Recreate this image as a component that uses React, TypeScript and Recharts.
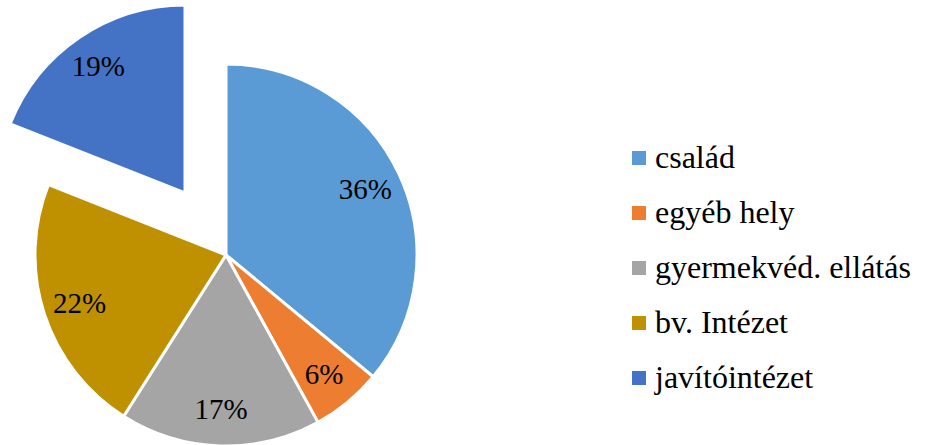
import React from "react";
import { PieChart, Pie, Cell } from "recharts";

// categories and shares (%), clockwise from 12 o'clock
const categories = ["család", "egyéb hely", "gyermekvéd. ellátás", "bv. Intézet", "javítóintézet"];
const shares = [36, 6, 17, 22, 19];
const colors = ["#5B9BD5", "#ED7D31", "#A5A5A5", "#BF9000", "#4472C4"];
const explodedIndex = 4;

const RAD = Math.PI / 180;
const FONT = "'Liberation Serif', 'DejaVu Serif', serif";

const data = categories.map((name, i) => ({ name, value: shares[i] }));

const makeLabel = (show: (i: number) => boolean) => (props: any) => {
  const { cx, cy, midAngle, index, value } = props;
  if (!show(index)) return null;
  const r = 154;
  const x = cx + r * Math.cos(-midAngle * RAD);
  const y = cy + r * Math.sin(-midAngle * RAD);
  return (
    <text
      x={x}
      y={y}
      textAnchor="middle"
      dominantBaseline="central"
      fill="#000"
      fontFamily={FONT}
      fontSize={29}
    >
      {value}%
    </text>
  );
};

const LegendBox = () => (
  <div style={{ position: "absolute", left: 632, top: 130, fontFamily: FONT, fontSize: 32, color: "#000" }}>
    {categories.map((name, i) => (
      <div key={name} style={{ display: "flex", alignItems: "center", height: 55 }}>
        <span
          style={{ display: "inline-block", width: 14, height: 14, background: colors[i], marginRight: 9 }}
        />
        <span style={{ lineHeight: "55px", whiteSpace: "nowrap" }}>{name}</span>
      </div>
    ))}
  </div>
);

export default function App() {
  return (
    <div style={{ position: "absolute", left: 0, top: 0, width: 926, height: 445, background: "#fff" }}>
      <PieChart width={926} height={445} margin={{ top: 0, right: 0, bottom: 0, left: 0 }}>
        {/* main pie, exploded slice left out */}
        <Pie
          data={data}
          dataKey="value"
          nameKey="name"
          cx={226}
          cy={255}
          outerRadius={191}
          startAngle={90}
          endAngle={-270}
          stroke="#fff"
          strokeWidth={3}
          labelLine={false}
          label={makeLabel((i) => i !== explodedIndex)}
          isAnimationActive={false}
        >
          {data.map((d, i) => (
            <Cell
              key={d.name}
              fill={i === explodedIndex ? "none" : colors[i]}
              stroke={i === explodedIndex ? "none" : "#fff"}
            />
          ))}
        </Pie>
        {/* exploded slice pulled out along its mid angle */}
        <Pie
          data={data}
          dataKey="value"
          nameKey="name"
          cx={185}
          cy={193}
          outerRadius={188}
          startAngle={90}
          endAngle={-270}
          stroke="#fff"
          strokeWidth={3}
          labelLine={false}
          label={makeLabel((i) => i === explodedIndex)}
          isAnimationActive={false}
        >
          {data.map((d, i) => (
            <Cell
              key={d.name}
              fill={i === explodedIndex ? colors[i] : "none"}
              stroke={i === explodedIndex ? "#fff" : "none"}
            />
          ))}
        </Pie>
      </PieChart>
      <LegendBox />
    </div>
  );
}
